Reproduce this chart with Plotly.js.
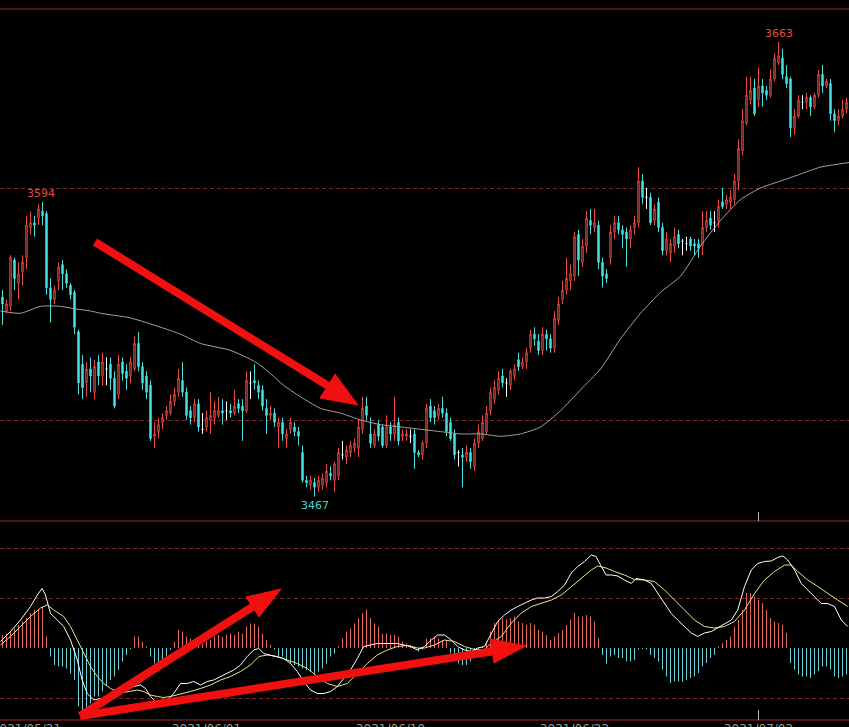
<!DOCTYPE html>
<html><head><meta charset="utf-8">
<script src="https://cdn.plot.ly/plotly-3.0.1.min.js"></script>
<style>html,body{margin:0;padding:0;background:#000;overflow:hidden}#chart{width:849px;height:727px}</style>
</head><body><div id="chart"></div>
<script>
// ---- candle data (index order, 60-min bars) ----
const openP = [3553,3547,3549,3569,3559,3564,3570,3583,3585,3587,
3590,3589,3557,3552,3560,3567,3563,3558,3555,3538,
3524,3516,3522,3512,3525,3519,3522,3524,3518,3511,
3525,3521,3519,3522,3533,3523,3519,3515,3493,3495,
3499,3502,3503,3508,3512,3517,3512,3504,3501,3507,
3496,3497,3500,3501,3502,3504,3504,3504,3503,3507,
3506,3504,3516,3517,3515,3513,3505,3502,3503,3497,
3499,3492,3496,3497,3495,3486,3474,3472,3473,3471,
3472,3473,3477,3474,3476,3485,3484,3486,3488,3488,
3496,3506,3494,3489,3498,3497,3489,3497,3494,3499,
3493,3493,3493,3494,3486,3485,3490,3506,3504,3502,
3505,3503,3499,3494,3486,3485,3484,3486,3480,3490,
3492,3495,3504,3509,3513,3519,3516,3515,3519,3526,
3523,3525,3531,3537,3534,3530,3537,3535,3531,3543,
3552,3556,3560,3562,3580,3568,3575,3586,3583,3584,
3568,3563,3570,3581,3585,3582,3581,3578,3583,3585,
3603,3596,3596,3586,3594,3583,3573,3572,3575,3580,
3577,3576,3578,3576,3576,3575,3583,3587,3585,3586,
3594,3593,3594,3595,3603,3616,3628,3638,3643,3638,
3644,3642,3640,3647,3654,3656,3648,3647,3626,3631,
3637,3637,3639,3635,3640,3649,3644,3645,3632,3629,
3631,3634];
const highP = [3556,3552,3571,3570,3568,3571,3588,3590,3588,3593,
3594,3590,3561,3558,3568,3569,3565,3559,3556,3539,
3528,3525,3527,3526,3528,3529,3527,3527,3521,3528,
3527,3524,3527,3536,3538,3525,3521,3517,3499,3501,
3503,3506,3511,3514,3522,3525,3514,3506,3509,3509,
3503,3504,3512,3508,3510,3509,3508,3507,3513,3509,
3509,3521,3521,3524,3517,3515,3509,3506,3505,3501,
3501,3496,3501,3499,3497,3489,3476,3476,3475,3476,
3477,3481,3480,3482,3488,3491,3489,3491,3492,3500,
3510,3510,3501,3496,3500,3498,3502,3499,3510,3501,
3496,3496,3496,3496,3487,3491,3507,3509,3506,3507,
3510,3505,3501,3496,3487,3488,3489,3488,3492,3498,
3502,3506,3514,3517,3521,3522,3518,3522,3524,3529,
3527,3531,3539,3540,3537,3540,3539,3537,3547,3553,
3560,3570,3567,3581,3582,3578,3590,3591,3591,3586,
3570,3565,3584,3588,3588,3584,3583,3584,3588,3609,
3606,3600,3598,3593,3596,3585,3581,3578,3583,3582,
3578,3579,3579,3578,3578,3590,3590,3590,3590,3595,
3600,3597,3599,3606,3621,3634,3648,3648,3647,3652,
3647,3644,3651,3658,3663,3660,3653,3648,3634,3640,
3640,3641,3640,3641,3651,3653,3647,3647,3634,3634,
3638,3639];
const lowP = [3541,3546,3547,3556,3552,3558,3565,3580,3579,3584,
3584,3554,3542,3550,3556,3556,3557,3552,3537,3511,
3509,3510,3512,3509,3515,3515,3515,3513,3505,3509,
3517,3513,3516,3521,3521,3513,3509,3491,3488,3492,
3496,3500,3502,3506,3510,3510,3500,3498,3499,3495,
3494,3495,3494,3498,3501,3498,3500,3501,3502,3503,
3491,3503,3509,3513,3509,3504,3494,3500,3497,3488,
3491,3488,3494,3493,3489,3473,3471,3470,3467,3469,
3470,3471,3474,3469,3474,3483,3481,3484,3486,3484,
3494,3500,3488,3488,3491,3488,3488,3491,3491,3489,
3491,3491,3490,3479,3484,3483,3488,3499,3498,3500,
3501,3493,3491,3483,3480,3471,3482,3479,3478,3488,
3491,3494,3502,3507,3511,3514,3510,3513,3517,3521,
3522,3522,3529,3532,3528,3528,3530,3529,3529,3541,
3550,3554,3556,3560,3562,3566,3572,3580,3581,3565,
3557,3559,3567,3578,3580,3574,3566,3574,3580,3583,
3593,3591,3584,3584,3581,3571,3571,3568,3572,3574,
3571,3573,3573,3571,3570,3571,3581,3582,3581,3583,
3591,3591,3591,3593,3599,3614,3627,3636,3631,3635,
3635,3638,3639,3646,3653,3647,3643,3622,3623,3630,
3634,3634,3631,3634,3639,3641,3643,3629,3624,3627,
3630,3632];
const closeP = [3550,3550,3570,3561,3563,3568,3584,3585,3584,3591,
3588,3557,3552,3556,3566,3563,3559,3554,3540,3516,
3514,3522,3519,3523,3519,3525,3522,3518,3506,3524,
3520,3518,3525,3533,3523,3516,3512,3492,3494,3498,
3501,3504,3508,3511,3518,3512,3502,3501,3507,3497,
3496,3501,3502,3504,3504,3503,3504,3503,3506,3505,
3504,3517,3516,3516,3512,3506,3502,3503,3499,3499,
3494,3494,3499,3495,3493,3474,3473,3474,3471,3474,
3475,3478,3476,3481,3486,3485,3487,3489,3490,3497,
3505,3502,3490,3494,3493,3489,3497,3494,3498,3491,
3494,3494,3493,3486,3485,3490,3505,3501,3501,3505,
3503,3495,3492,3485,3486,3484,3486,3482,3490,3495,
3499,3503,3512,3514,3518,3516,3516,3521,3522,3523,
3525,3529,3537,3535,3530,3537,3535,3531,3544,3550,
3556,3561,3563,3579,3569,3575,3587,3584,3585,3568,
3562,3561,3581,3585,3582,3580,3578,3582,3585,3603,
3596,3596,3585,3591,3583,3573,3578,3576,3579,3576,
3577,3576,3575,3575,3574,3583,3586,3584,3585,3592,
3592,3595,3596,3603,3617,3629,3640,3642,3632,3644,
3641,3640,3647,3656,3657,3649,3645,3626,3631,3638,
3637,3639,3635,3640,3649,3644,3646,3632,3629,3631,
3634,3637];

// ---- moving average (read points: bar index, value) ----
const maX = [-0.5,4.5,9.5,14.5,17.75,22,24.5,32,39.5,44.5,49.5,57,63.25,67,70.25,74.5,79.5,84.5,89.5,94.5,99.5,104.5,109.5,114.5,119.5,124.5,129.5,134.5,139.5,144.5,149.5,154.5,159.5,164.5,169.5,174.5,179.5,184.5,189.5,194.5,199.5,204.5,211.75];
const maVals = [3547,3546,3549,3549,3548,3547,3546,3544,3540,3537,3533,3530,3525,3520,3515,3510,3505,3503,3500,3498,3497,3496,3495,3494,3494,3493,3494,3497,3504,3513,3522,3535,3546,3555,3562,3575,3586,3595,3600,3603,3606,3609,3611];

// ---- MACD histogram (one per bar) ----
const histVals = [2.6,2.9,3.3,3.9,4.6,5.3,6.0,7.0,7.7,7.7,8.3,
2.3,
-1.7,-3.4,-3.7,-3.7,-4.1,-5.1,-6.4,-11.7,-13.1,-12.7,-11.1,-9.7,-9.7,-8.7,-7.4,-6.4,-5.7,-4.4,-2.7,-1.4,
-0.2,
2.3,2.3,1.3,0.3,
-1.7,-3.1,-3.4,-2.4,-1.7,
-0.3,
1.3,3.6,3.3,2.3,1.9,1.3,1.6,0.9,1.3,1.6,2.3,2.6,2.3,2.6,2.9,2.6,3.3,2.9,4.3,4.9,4.9,4.3,2.9,1.6,0.6,
-0.3,
-1.7,-1.7,-2.4,-3.1,-3.4,-3.7,-4.1,-4.4,-4.7,-5.1,-4.7,-4.1,-3.1,-1.7,-1.1,
0.3,1.9,3.3,3.9,4.9,6.0,7.0,7.7,6.0,4.9,4.3,2.9,2.9,2.6,2.6,2.3,1.3,0.9,0.6,0.3,
-0.7,-0.3,
1.9,1.9,2.3,1.9,1.6,1.6,
-1.1,-1.7,-3.1,-3.4,-3.4,-2.7,
-2.0,-1.0,0.3,
1.3,3.3,5.0,5.7,6.0,5.7,6.0,6.3,5.3,5.0,4.6,5.0,4.6,3.6,3.3,2.6,1.6,2.3,3.0,3.6,4.6,5.7,7.0,6.3,6.3,6.6,6.3,5.3,2.0,
-1.4,-3.1,-1.7,-1.4,-2.0,-2.0,-2.7,-2.7,-2.4,-0.3,
-0.2,-0.3,
-1.4,-2.0,-2.7,-4.3,-5.7,-7.0,-6.7,-6.7,-6.7,-6.4,-6.0,-5.7,-5.0,-3.7,-3.0,-2.0,-1.4,
0.3,1.0,1.6,2.3,4.3,5.6,7.6,11.0,11.0,10.3,9.6,9.0,7.6,6.0,5.3,5.0,4.6,3.0,
-3.0,-4.3,-5.3,-5.7,-5.7,-6.0,-5.3,-4.6,-3.7,-3.7,-4.3,-5.7,-6.0,-5.7,
-5.3];

// ---- DIF (white) and DEA (yellow), read points ----
const difX = [-0.5,2,4.5,7,8.7,9.9,10.75,12,13.7,15.3,17,18.7,19.9,21.2,22.8,24.5,26.2,27.8,29.5,31.2,32.8,34.5,35.75,37,38.25,39.5,41.2,42.8,44.5,46.2,47.8,49.5,51.2,52.8,54.5,56.2,57.8,59.5,61.2,62.8,64.1,65.3,67,68.7,70.3,72,73.7,75.3,77,78.7,80.3,82,83.7,85.3,87,88.7,90.3,92,93.7,95.3,97,98.7,100.3,102,103.7,
105.5,107.2,108.8,110.5,112.2,113.8,115.5,117.2,118.8,120.5,122.2,123.8,125.5,127.2,128.8,130.5,132.2,133.8,135.5,137.2,138.8,140.5,142.2,143.8,145.5,147.2,148.4,149.7,150.9,152.2,153.8,155.5,157.2,158.4,160.5,162.2,163.8,165.5,167.2,168.8,170.5,172.2,173.8,175.5,177.2,178.8,180.5,182.2,183.8,185.5,187.2,188.8,190.5,192.2,193.8,195.1,196.3,198,199.7,201.3,203,204.7,206.3,208,209.7,211.3];
const difVals = [1.3,3.3,5.6,8.3,10.6,11.9,10.6,6.9,5.6,4.3,1.6,-2.4,-6.4,-9.1,-10.4,-10.1,-10.4,-10.1,-9.1,-8.4,-7.7,-7.4,-8.1,-9.7,-10.7,-10.7,-10.4,-9.1,-7.1,-7.1,-6.7,-7.4,-6.7,-6.4,-5.7,-5.1,-4.4,-3.4,-1.7,-0.4,-0.1,-1.1,-1.4,-1.7,-2.1,-3.1,-4.7,-6.7,-8.4,-9.1,-9.1,-8.7,-7.7,-6.1,-4.4,-2.1,0.3,0.6,0.9,0.9,0.9,0.9,0.6,0.3,-0.4,
0.3,1.6,2.6,2.6,1.6,0.3,-0.4,-0.7,0,0.3,3.0,5.3,6.6,7.6,8.3,9.0,9.6,10.0,10.0,10.3,11.3,12.6,15.0,16.3,17.3,18.6,18.3,16.3,14.6,14.6,14.4,13.6,12.9,13.9,13.6,12.9,10.9,8.9,6.9,5.6,4.3,3.0,2.3,3.0,3.3,4.0,4.9,5.6,7.6,12.3,15.6,16.9,17.3,17.4,18.1,18.4,17.6,15.6,12.9,11.6,10.3,8.9,8.9,8.3,5.6,4.3];
const deaX = [-0.5,2,4.5,7,9.5,11.2,12.8,15.3,17,18.7,20.3,22,23.7,25.3,27,28.7,30.3,32,33.7,35.3,37,38.7,40.3,42,43.7,45.3,47,49.5,52,54.5,57,59.5,62,64.1,66.2,68.7,71.2,73.7,76.2,78.7,81.2,83.7,86.2,88.7,91.2,93.7,96.2,98.7,101.2,103.7,
105.5,108,110.5,113,115.5,118,120.5,122.2,124.7,127.2,129.7,132.2,134.7,137.2,139.7,142.2,144.7,147.2,148.8,150.9,153,155.5,158,160.5,163,165.5,168,170.5,173,175.5,178,180.5,183,185.5,188,190.5,193,195.5,197.2,198.8,201.3,203.8,206.3,208.8,211.3];
const deaVals = [0.6,2.3,4.3,6.3,8.0,8.6,7.6,6.3,4.3,1.6,-1.1,-3.7,-5.7,-7.1,-8.1,-8.7,-8.9,-8.7,-8.4,-8.7,-9.4,-9.7,-9.9,-9.7,-9.4,-9.1,-8.7,-8.1,-7.4,-6.4,-5.7,-4.7,-3.4,-1.7,-1.4,-1.7,-2.4,-3.1,-4.1,-5.7,-7.1,-7.7,-7.1,-5.1,-3.1,-1.4,-0.4,0.3,0.5,0,
0,0.6,1.6,1.3,0.3,-0.3,-0.3,1.0,2.3,5.0,7.0,8.3,9.0,9.6,10.6,12.3,13.9,15.6,16.4,16.0,15.3,14.6,13.7,13.6,13.3,11.6,9.6,7.6,5.6,4.3,4.0,4.3,5.3,7.6,10.9,13.6,15.3,16.6,16.6,15.3,13.6,12.3,10.9,9.6,8.3];

// ---- x tick labels ----
const tickPos = [6, 51, 97, 143, 189];
const tickLabels = ['2021/05/21', '2021/06/01', '2021/06/10', '2021/06/22', '2021/07/02'];

// ---- styles ----
const RED = '#ee4a44', CYAN = '#48e0e0', HRED = '#e2675e', HCYAN = '#6cd0d6';
const W = 849, H = 727;
const px = x => x / W, py = y => 1 - y / H;

const n = openP.length;
const idx = openP.map((_, i) => i);
const normal = idx.filter(i => openP[i] !== closeP[i]);
const doji = idx.filter(i => openP[i] === closeP[i]);
const pick = (arr, ids) => ids.map(i => arr[i]);

function argmax(a, s, e) { let b = s; for (let i = s; i < e; i++) if (a[i] > a[b]) b = i; return b; }
function argmin(a, s, e) { let b = s; for (let i = s; i < e; i++) if (a[i] < a[b]) b = i; return b; }
const gMax = argmax(highP, 0, n), gMin = argmin(lowP, 0, n), lMax = argmax(highP, 0, 40);

const traces = [
  { type: 'candlestick', x: pick(idx, normal), open: pick(openP, normal), high: pick(highP, normal),
    low: pick(lowP, normal), close: pick(closeP, normal), xaxis: 'x', yaxis: 'y', whiskerwidth: 0,
    increasing: { line: { color: RED, width: 1 }, fillcolor: '#000' },
    decreasing: { line: { color: CYAN, width: 1 }, fillcolor: CYAN }, hoverinfo: 'skip' },
  { type: 'candlestick', x: pick(idx, doji), open: pick(openP, doji), high: pick(highP, doji),
    low: pick(lowP, doji), close: pick(closeP, doji), xaxis: 'x', yaxis: 'y', whiskerwidth: 0,
    increasing: { line: { color: '#ffffff', width: 1 }, fillcolor: '#fff' },
    decreasing: { line: { color: '#ffffff', width: 1 }, fillcolor: '#fff' }, hoverinfo: 'skip' },
  { type: 'scatter', mode: 'lines', x: maX, y: maVals, xaxis: 'x', yaxis: 'y',
    line: { color: '#a4a4a4', width: 1, shape: 'spline', smoothing: 0.6 }, hoverinfo: 'skip' },
  { type: 'bar', x: idx, y: histVals, xaxis: 'x', yaxis: 'y2', width: 0.25,
    marker: { color: histVals.map(v => v >= 0 ? HRED : HCYAN), line: { width: 0 } }, hoverinfo: 'skip' },
  { type: 'scatter', mode: 'lines', x: deaX, y: deaVals, xaxis: 'x', yaxis: 'y2',
    line: { color: '#e6e68c', width: 1 }, hoverinfo: 'skip' },
  { type: 'scatter', mode: 'lines', x: difX, y: difVals, xaxis: 'x', yaxis: 'y2',
    line: { color: '#ffffff', width: 1 }, hoverinfo: 'skip' }
];

const BORDER = '#a82424', GRID = '#7e2424', ARROW = '#f01010';
const shapes = [];
[9, 521, 720].forEach(y => shapes.push({ type: 'line', xref: 'paper', yref: 'paper', x0: 0, x1: 1, y0: py(y), y1: py(y), line: { color: BORDER, width: 1 } }));
shapes.push({ type: 'line', xref: 'x', yref: 'paper', x0: tickPos[4], x1: tickPos[4], y0: py(521), y1: py(512), line: { color: '#bbbbbb', width: 1 } });
shapes.push({ type: 'line', xref: 'x', yref: 'paper', x0: tickPos[4], x1: tickPos[4], y0: py(720), y1: py(710), line: { color: '#bbbbbb', width: 1 } });

function arrow(sx, sy, ex, ey, tip, c1, c2, w) {
  shapes.push({ type: 'line', xref: 'paper', yref: 'paper', x0: px(sx), y0: py(sy), x1: px(ex), y1: py(ey), line: { color: ARROW, width: w } });
  shapes.push({ type: 'path', xref: 'paper', yref: 'paper',
    path: `M ${px(tip[0])} ${py(tip[1])} L ${px(c1[0])} ${py(c1[1])} L ${px(c2[0])} ${py(c2[1])} Z`,
    fillcolor: ARROW, line: { color: ARROW, width: 1 } });
}
arrow(95, 242, 330, 387, [358, 405], [335, 374], [320, 398], 8);
arrow(80, 716, 254, 606, [281, 589], [246, 597], [259, 617], 8);
arrow(80, 716, 495, 651, [526, 646], [490, 639], [494, 663], 8);

const lblFont = (c) => ({ family: 'DejaVu Sans', size: 11, color: c });
const annotations = [
  { x: lMax, y: highP[lMax], xref: 'x', yref: 'y', text: String(highP[lMax]), showarrow: false, yanchor: 'bottom', xanchor: 'center', yshift: 0, xshift: -2, font: lblFont('#e04a44') },
  { x: gMax, y: highP[gMax], xref: 'x', yref: 'y', text: String(highP[gMax]), showarrow: false, yanchor: 'bottom', xanchor: 'center', yshift: 0, font: lblFont('#e04a44') },
  { x: gMin, y: lowP[gMin], xref: 'x', yref: 'y', text: String(lowP[gMin]), showarrow: false, yanchor: 'top', xanchor: 'center', yshift: 0, font: lblFont('#50d0d0') }
];

const layout = {
  width: W, height: H, margin: { l: 0, r: 0, t: 0, b: 0 },
  paper_bgcolor: '#000', plot_bgcolor: '#000', showlegend: false, boxgap: 0.5, boxmode: 'overlay',
  xaxis: { domain: [0, 1], range: [-0.625, 211.625], anchor: 'y2', showgrid: false, zeroline: false, showline: false,
    tickvals: tickPos, ticktext: tickLabels, ticks: '', ticklabeloverflow: 'allow',
    tickfont: { family: 'DejaVu Sans', size: 12, color: '#9a9a9a' },
    rangeslider: { visible: false }, fixedrange: true },
  yaxis: { domain: [py(521), py(9)], range: [3456.47, 3677.16], anchor: 'x', tickvals: [3500, 3600], showticklabels: false,
    gridcolor: GRID, griddash: '4px,3px', gridwidth: 1, zeroline: false, showline: false, fixedrange: true },
  yaxis2: { domain: [py(720), py(521)], range: [-14.4, 25.4], anchor: 'x', tickvals: [-10, 10, 20], showticklabels: false,
    gridcolor: GRID, griddash: '4px,3px', gridwidth: 1, zeroline: false, showline: false, fixedrange: true },
  shapes: shapes, annotations: annotations
};

Plotly.newPlot('chart', traces, layout, { staticPlot: true, displayModeBar: false });
</script>
</body></html>
